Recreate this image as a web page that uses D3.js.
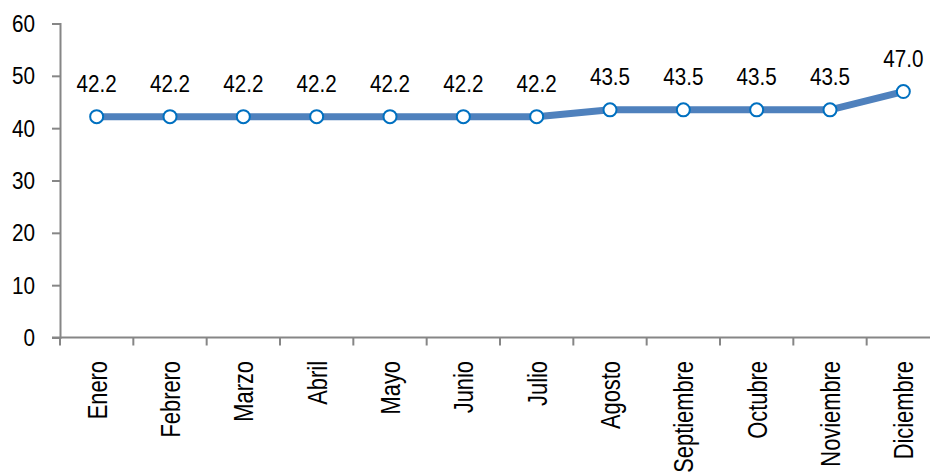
<!DOCTYPE html>
<html>
<head>
<meta charset="utf-8">
<script src="https://cdn.jsdelivr.net/npm/d3@7"></script>
<style>
  html, body { margin: 0; padding: 0; background: #fff; }
  svg { display: block; }
  text { font-family: "Liberation Sans", Arial, sans-serif; fill: #000; }
</style>
</head>
<body>
<svg id="chart" width="930" height="472"></svg>
<script>
const months = ["Enero","Febrero","Marzo","Abril","Mayo","Junio","Julio","Agosto","Septiembre","Octubre","Noviembre","Diciembre"];
const values = [42.2,42.2,42.2,42.2,42.2,42.2,42.2,43.5,43.5,43.5,43.5,47.0];
const yTicks = [0,10,20,30,40,50,60];

const svg = d3.select("#chart");
const x0 = 60, x1 = 940, yTop = 23.5, yBot = 337.5;

const x = d3.scaleBand().domain(months).range([x0, x1]);
const y = d3.scaleLinear().domain([0, 60]).range([yBot, yTop]);

const axisColor = "#868686";

// Y axis
const yAxis = svg.append("g").attr("transform", `translate(${x0},0)`)
  .call(d3.axisLeft(y).tickValues(yTicks).tickSize(8).tickPadding(0).tickFormat(d3.format("d")));
yAxis.select(".domain").attr("stroke", axisColor).attr("stroke-width", 2);
yAxis.selectAll(".tick line").attr("stroke", axisColor).attr("stroke-width", 2);
yAxis.selectAll(".tick text").attr("font-size", 23).attr("font-family", null)
  .attr("x", null).attr("dy", null)
  .attr("transform", "translate(-25,8) scale(0.9,1)");

// X axis
const xAxis = svg.append("g").attr("transform", `translate(0,${yBot})`)
  .call(d3.axisBottom(x).tickSize(8).tickFormat(""));
xAxis.select(".domain").attr("stroke", axisColor).attr("stroke-width", 2).attr("d", `M${x0 - 8},0H${x1}`);
xAxis.selectAll(".tick").remove();
const bounds = months.map(m => x(m)).concat([x1]);
xAxis.selectAll(".bt").data(bounds).join("line").attr("class","bt")
  .attr("x1", d => d).attr("x2", d => d).attr("y1", 0).attr("y2", 8)
  .attr("stroke", axisColor).attr("stroke-width", 2);

// month labels
svg.append("g").selectAll("text").data(months).join("text")
  .attr("transform", d => `translate(${x(d) + x.bandwidth()/2 + 10},361) rotate(-90) scale(0.81,1)`)
  .attr("text-anchor", "end")
  .attr("font-size", 27)
  .text(d => d);

// line
const line = d3.line().x((d, i) => x(months[i]) + x.bandwidth()/2).y(d => y(d));
svg.append("path").datum(values).attr("d", line)
  .attr("fill", "none").attr("stroke", "#4F81BD").attr("stroke-width", 7).attr("stroke-linejoin", "round");

// markers
svg.append("g").selectAll("circle").data(values).join("circle")
  .attr("cx", (d, i) => x(months[i]) + x.bandwidth()/2)
  .attr("cy", d => y(d))
  .attr("r", 6.5)
  .attr("fill", "#fff").attr("stroke", "#0070C0").attr("stroke-width", 2);

// data labels
svg.append("g").selectAll("text").data(values).join("text")
  .attr("transform", (d, i) => `translate(${x(months[i]) + x.bandwidth()/2},${y(d) - 25}) scale(0.86,1)`)
  .attr("text-anchor", "middle")
  .attr("font-size", 24)
  .text(d => d.toFixed(1));
</script>
</body>
</html>
